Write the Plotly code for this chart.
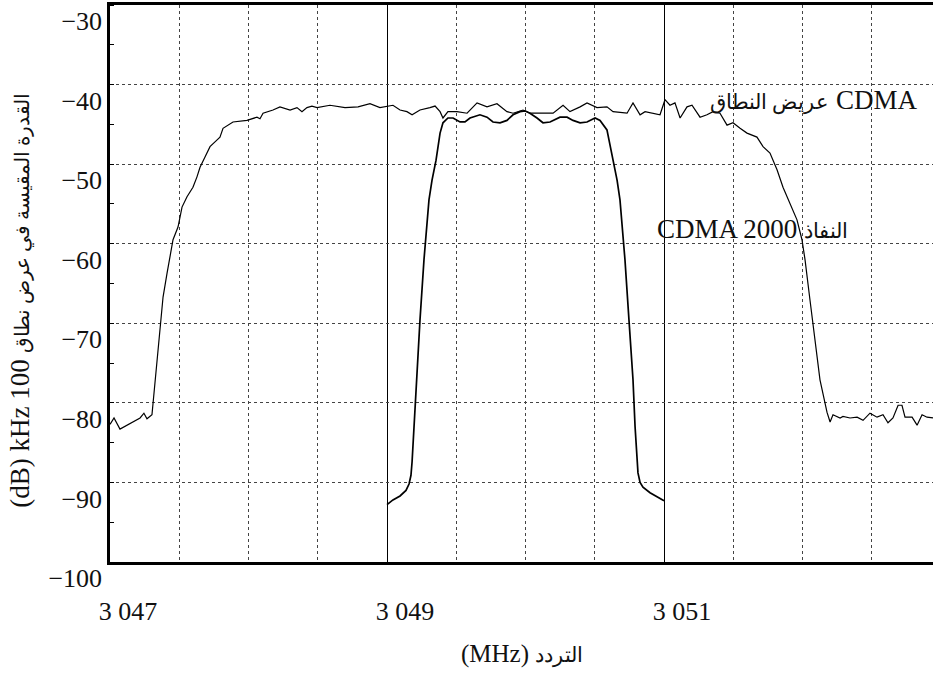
import plotly.graph_objects as go

# ---- data (MHz, dB) ----
wide_freq = [3047.000, 3047.029, 3047.072, 3047.130, 3047.159, 3047.181, 3047.217, 3047.245, 3047.267, 3047.303,
             3047.354, 3047.383, 3047.412, 3047.455, 3047.491, 3047.520, 3047.556, 3047.599, 3047.628, 3047.650,
             3047.686, 3047.722, 3047.758, 3047.794, 3047.816, 3047.852, 3047.888, 3047.989, 3048.061, 3048.083,
             3048.105, 3048.177, 3048.227, 3048.300, 3048.350, 3048.386, 3048.422, 3048.458, 3048.495, 3048.588,
             3048.697, 3048.791, 3048.877, 3048.949, 3049.043, 3049.094, 3049.144, 3049.181, 3049.238, 3049.310,
             3049.347, 3049.383, 3049.404, 3049.440, 3049.505, 3049.578, 3049.650, 3049.722, 3049.794, 3049.866,
             3049.910, 3049.982, 3050.032, 3050.105, 3050.199, 3050.271, 3050.321, 3050.394, 3050.444, 3050.516,
             3050.588, 3050.632, 3050.733, 3050.776, 3050.827, 3050.863, 3050.971, 3051.007, 3051.043, 3051.079,
             3051.116, 3051.166, 3051.202, 3051.260, 3051.310, 3051.354, 3051.404, 3051.455, 3051.498, 3051.549,
             3051.599, 3051.671, 3051.715, 3051.765, 3051.816, 3051.859, 3051.910, 3051.960, 3051.996, 3052.018,
             3052.054, 3052.090, 3052.105, 3052.126, 3052.177, 3052.199, 3052.220, 3052.271, 3052.292, 3052.343,
             3052.394, 3052.437, 3052.487, 3052.538, 3052.581, 3052.617, 3052.653, 3052.690, 3052.718, 3052.740,
             3052.791, 3052.827, 3052.863, 3052.899, 3052.942]
wide_power = [-82.7, -81.9, -83.3, -82.7, -82.5, -82.2, -81.9, -81.3, -82.0, -81.5,
              -71.5, -66.7, -63.7, -59.5, -57.9, -55.4, -54.1, -52.9, -51.6, -50.4,
              -49.1, -47.8, -47.2, -46.6, -45.5, -45.1, -44.7, -44.5, -44.1, -44.3,
              -43.6, -43.2, -42.8, -43.2, -42.9, -43.4, -42.9, -42.7, -42.9, -42.6,
              -42.9, -42.8, -42.4, -42.9, -42.6, -43.2, -43.4, -43.8, -43.2, -42.9,
              -42.7, -43.4, -44.2, -43.4, -43.4, -43.6, -42.3, -42.8, -42.4, -43.4,
              -43.6, -43.2, -43.6, -43.6, -43.6, -42.6, -43.4, -42.8, -42.3, -42.9,
              -42.8, -43.4, -43.6, -42.3, -43.8, -43.4, -43.8, -41.9, -42.6, -42.3,
              -44.2, -42.8, -42.6, -44.1, -43.8, -43.4, -43.6, -45.1, -44.8, -45.5,
              -46.1, -46.6, -47.8, -48.6, -50.7, -52.9, -54.9, -57.0, -59.5, -62.0,
              -67.1, -72.1, -74.6, -77.1, -81.2, -82.4, -81.5, -81.9, -81.7, -81.9,
              -81.8, -82.2, -81.3, -81.8, -81.5, -82.5, -81.9, -80.3, -80.3, -81.8,
              -81.8, -82.8, -81.5, -81.8, -81.9]

access_freq = [3049.000, 3049.043, 3049.094, 3049.137, 3049.159, 3049.173, 3049.181, 3049.195, 3049.209, 3049.217,
               3049.238, 3049.267, 3049.303, 3049.325, 3049.354, 3049.383, 3049.404, 3049.440, 3049.477, 3049.527,
               3049.563, 3049.599, 3049.671, 3049.722, 3049.765, 3049.816, 3049.866, 3049.910, 3049.960, 3049.996,
               3050.032, 3050.083, 3050.126, 3050.177, 3050.249, 3050.300, 3050.343, 3050.394, 3050.444, 3050.502,
               3050.538, 3050.588, 3050.632, 3050.661, 3050.682, 3050.718, 3050.747, 3050.769, 3050.776, 3050.791,
               3050.805, 3050.812, 3050.827, 3050.848, 3050.899, 3050.949, 3051.000]
access_power = [-92.8, -92.2, -91.7, -91.0, -90.2, -89.1, -87.4, -83.0, -77.1, -74.6,
                -69.6, -62.0, -54.5, -52.0, -49.5, -46.1, -44.8, -44.2, -44.2, -44.7,
                -44.7, -44.2, -43.8, -44.1, -44.7, -44.8, -44.5, -43.8, -43.4, -43.3,
                -43.6, -44.2, -44.8, -44.7, -44.1, -44.1, -44.5, -44.8, -44.7, -44.2,
                -44.5, -45.7, -49.5, -52.0, -54.5, -62.0, -69.6, -74.6, -77.1, -83.0,
                -87.2, -88.8, -90.0, -90.6, -91.3, -91.8, -92.3]

x_tick_vals = [3047, 3049, 3051]
x_tick_text = ["3 047", "3 049", "3 051"]
y_tick_vals = [-100, -90, -80, -70, -60, -50, -40, -30]
y_tick_text = ["−100", "−90", "−80", "−70", "−60", "−50", "−40", "−30"]

AR = '<span style="font-size:{}px">{}</span>'
x_title = "(MHz) " + AR.format(21, "التردد")
y_title = "(dB) kHz 100 " + AR.format(20, "القدرة المقيسة في عرض نطاق")
label_wide = AR.format(21, "عريض النطاق") + " CDMA"
label_access = "CDMA 2000 " + AR.format(21, "النفاذ")

FONT = "Liberation Serif, Times New Roman, DejaVu Serif, serif"

fig = go.Figure()
fig.add_trace(go.Scatter(x=wide_freq, y=wide_power, mode="lines",
                         line=dict(color="black", width=1.2), showlegend=False))
fig.add_trace(go.Scatter(x=access_freq, y=access_power, mode="lines",
                         line=dict(color="black", width=1.7), showlegend=False))

fig.update_layout(
    width=933, height=677,
    margin=dict(l=110, r=0, t=5, b=115, autoexpand=False),
    paper_bgcolor="white", plot_bgcolor="white",
    font=dict(family=FONT, size=26, color="#111111"),
    xaxis=dict(
        range=[3047, 3052.942],
        tickvals=x_tick_vals, ticktext=x_tick_text,
        showgrid=True, gridcolor="black", gridwidth=1,
        showline=True, linecolor="black", linewidth=2.5, mirror=True,
        ticks="", zeroline=False,
        ticklabelshift=18, ticklabelstandoff=24,
        minor=dict(dtick=0.5, tick0=3047, showgrid=True, gridcolor="#444",
                   griddash="3px,3px", gridwidth=1, ticks=""),
    ),
    yaxis=dict(
        range=[-100, -30],
        tickvals=y_tick_vals, ticktext=y_tick_text,
        showgrid=True, gridcolor="#444", griddash="3px,3px", gridwidth=1,
        showline=True, linecolor="black", linewidth=2.5, mirror=False,
        ticks="", zeroline=False,
        ticklabelshift=16, ticklabelstandoff=0,
        minor=dict(dtick=5, tick0=-100, ticks="inside", ticklen=4,
                   tickcolor="black", showgrid=False),
    ),
    annotations=[
        dict(text=x_title, xref="paper", yref="paper", x=0.5, y=-0.165,
             xanchor="center", yanchor="middle", showarrow=False,
             font=dict(family=FONT, size=25)),
        dict(text=y_title, xref="paper", yref="paper", x=-0.1087, y=0.47,
             xanchor="center", yanchor="middle", textangle=-90, showarrow=False,
             font=dict(family=FONT, size=27)),
        dict(text=label_wide, xref="x", yref="y", x=3052.848, y=-42.0,
             xanchor="right", yanchor="middle", showarrow=False,
             font=dict(family=FONT, size=27)),
        dict(text=label_access, xref="x", yref="y", x=3050.935, y=-58.2,
             xanchor="left", yanchor="middle", showarrow=False,
             font=dict(family=FONT, size=27)),
    ],
)

fig.write_html("out.html", config={"displayModeBar": False},
               post_script="document.body.style.margin='0';")
